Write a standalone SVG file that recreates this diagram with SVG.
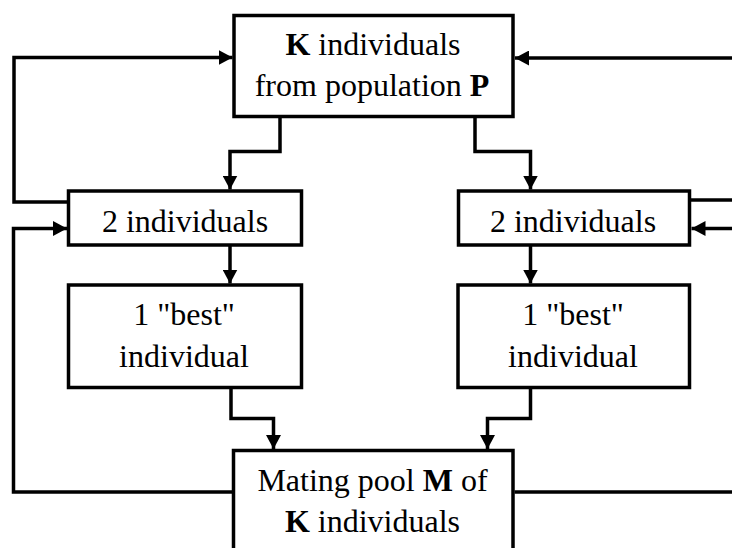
<svg xmlns="http://www.w3.org/2000/svg" width="732" height="548" viewBox="0 0 732 548">
  <defs>
    <marker id="arr" markerUnits="userSpaceOnUse" markerWidth="14" markerHeight="15" refX="14" refY="7.5" orient="auto">
      <path d="M0,0 L14,7.5 L0,15 Z" fill="#000"/>
    </marker>
  </defs>
  <style>
    .box { fill: #fff; stroke: #000; stroke-width: 3.5; }
    .lbl { font-family: "Liberation Serif", "Times New Roman", serif; font-size: 32px; fill: #000; text-anchor: middle; }
    .b { font-weight: bold; }
    .c { fill: none; stroke: #000; stroke-width: 3.5; }
    .a { marker-end: url(#arr); }
  </style>
  <rect width="732" height="548" fill="#fff"/>
  <g id="connectors">
    <path class="c a" d="M280,118 V151.5 H230 V189.5"/>
    <path class="c a" d="M475,118 V151.5 H530.5 V189.5"/>
    <path class="c a" d="M230,246 V283.5"/>
    <path class="c a" d="M530.5,246 V283.5"/>
    <path class="c a" d="M231,389 V418.5 H273.5 V449"/>
    <path class="c a" d="M530.5,389 V418.5 H487.5 V449"/>
    <path class="c a" d="M67,202 H14 V57.5 H232.5"/>
    <path class="c a" d="M232,492 H13.5 V228.5 H67"/>
    <path class="c a" d="M734,58 H515"/>
    <path class="c a" d="M734,228.5 H691.5"/>
    <path class="c" d="M691,200 H734"/>
    <path class="c" d="M514.5,492 H734"/>
  </g>
  <g id="top">
    <rect class="box" x="234" y="15.5" width="279" height="101"/>
    <text class="lbl" x="373" y="55"><tspan class="b">K</tspan> individuals</text>
    <text class="lbl" x="372" y="96">from population <tspan class="b">P</tspan></text>
  </g>
  <g id="two-left">
    <rect class="box" x="68.5" y="191" width="233" height="54"/>
    <text class="lbl" x="185" y="232">2 individuals</text>
  </g>
  <g id="two-right">
    <rect class="box" x="458.5" y="191" width="231" height="54"/>
    <text class="lbl" x="573" y="232">2 individuals</text>
  </g>
  <g id="best-left">
    <rect class="box" x="68.5" y="285" width="233" height="102.5"/>
    <text class="lbl" x="184" y="325">1 "best"</text>
    <text class="lbl" x="184" y="367">individual</text>
  </g>
  <g id="best-right">
    <rect class="box" x="458" y="285" width="231.5" height="102.5"/>
    <text class="lbl" x="573" y="325">1 "best"</text>
    <text class="lbl" x="573" y="367">individual</text>
  </g>
  <g id="mating">
    <rect class="box" x="233.5" y="450.5" width="279.5" height="120"/>
    <text class="lbl" x="372.5" y="491">Mating pool <tspan class="b">M</tspan> of</text>
    <text class="lbl" x="372.5" y="532"><tspan class="b">K</tspan> individuals</text>
  </g>
</svg>
